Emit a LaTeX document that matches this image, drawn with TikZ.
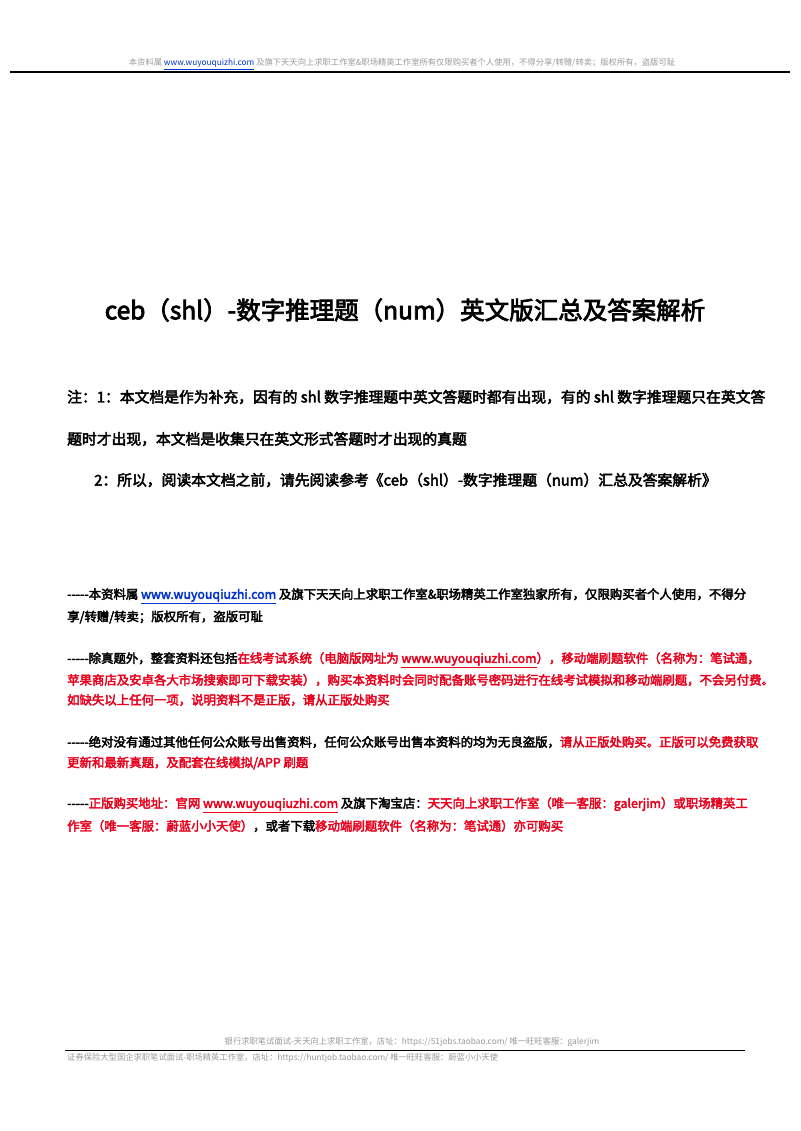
\documentclass[tikz,border=0pt]{standalone}
\usepackage{fontspec}
\newfontfamily\cjk{Noto Sans CJK SC}
\newfontfamily\cjkb{Noto Sans CJK SC}[FakeBold=3]
\definecolor{rd}{HTML}{E8001C}
\definecolor{lk}{HTML}{0033CC}
\definecolor{gr}{HTML}{9A9A9A}
\tikzset{ln/.style={anchor=west,inner sep=0pt,font=\cjkb\fontsize{12.4}{14}\selectfont},
nt/.style={anchor=west,inner sep=0pt,font=\cjkb\fontsize{14.8}{16}\selectfont},
hd/.style={inner sep=0pt,text=gr,font=\cjk\fontsize{8.3}{10}\selectfont}}
\newcommand{\lnk}[1]{\textcolor{lk}{\underline{#1}}}
\newcommand{\lnr}[1]{\underline{#1}}
\begin{document}
\begin{tikzpicture}[x=1pt,y=-1pt]
\useasboundingbox (0,0) rectangle (800,1131);
\fill[white] (0,0) rectangle (800,1131);
\node[hd] (h) at (402,64) {本资料属 \lnk{www.wuyouquizhi.com} 及旗下天天向上求职工作室\&职场精英工作室所有仅限购买者个人使用，不得分享/转赠/转卖；版权所有，盗版可耻};
\draw[line width=1.2pt] (10,72) -- (790,72);
\node[inner sep=0pt,font=\cjkb\fontsize{24.5}{28}\selectfont] (t) at (405,310) {ceb（shl）-数字推理题（num）英文版汇总及答案解析};
\node[nt] (n1) at (67,397) {注：1：本文档是作为补充，因有的 shl 数字推理题中英文答题时都有出现，有的 shl 数字推理题只在英文答};
\node[nt] (n2) at (67,439) {题时才出现，本文档是收集只在英文形式答题时才出现的真题};
\node[nt] (n3) at (94,480) {2：所以，阅读本文档之前，请先阅读参考《ceb（shl）-数字推理题（num）汇总及答案解析》};
\node[ln] (a1) at (67,596) {-----本资料属 \lnk{www.wuyouqiuzhi.com} 及旗下天天向上求职工作室\&职场精英工作室独家所有，仅限购买者个人使用，不得分};
\node[ln] (a2) at (67,617) {享/转赠/转卖；版权所有，盗版可耻};
\node[ln] (b1) at (67,660) {-----除真题外，整套资料还包括\textcolor{rd}{在线考试系统（电脑版网址为 \lnr{www.wuyouqiuzhi.com}），移动端刷题软件（名称为：笔试通，}};
\node[ln,text=rd] (b2) at (67,680) {苹果商店及安卓各大市场搜索即可下载安装），购买本资料时会同时配备账号密码进行在线考试模拟和移动端刷题，不会另付费。};
\node[ln,text=rd] (b3) at (67,700) {如缺失以上任何一项，说明资料不是正版，请从正版处购买};
\node[ln] (c1) at (67,742) {-----绝对没有通过其他任何公众账号出售资料，任何公众账号出售本资料的均为无良盗版，\textcolor{rd}{请从正版处购买。正版可以免费获取}};
\node[ln,text=rd] (c2) at (67,763) {更新和最新真题，及配套在线模拟/APP 刷题};
\node[ln] (d1) at (67,805) {-----\textcolor{rd}{正版购买地址：官网 \lnr{www.wuyouqiuzhi.com}} 及旗下淘宝店：\textcolor{rd}{天天向上求职工作室（唯一客服：galerjim）或职场精英工}};
\node[ln] (d2) at (67,826) {\textcolor{rd}{作室（唯一客服：蔚蓝小小天使）}，或者下载\textcolor{rd}{移动端刷题软件（名称为：笔试通）亦可购买}};
\node[hd] (f1) at (412,1042) {银行求职笔试面试-天天向上求职工作室，店址：https://51jobs.taobao.com/ 唯一旺旺客服：galerjim};
\draw[line width=0.8pt] (65,1050) -- (745,1050);
\node[hd,anchor=west] (f2) at (67,1058) {证券保险大型国企求职笔试面试-职场精英工作室，店址：https://huntjob.taobao.com/ 唯一旺旺客服：蔚蓝小小天使};
\end{tikzpicture}
\end{document}
